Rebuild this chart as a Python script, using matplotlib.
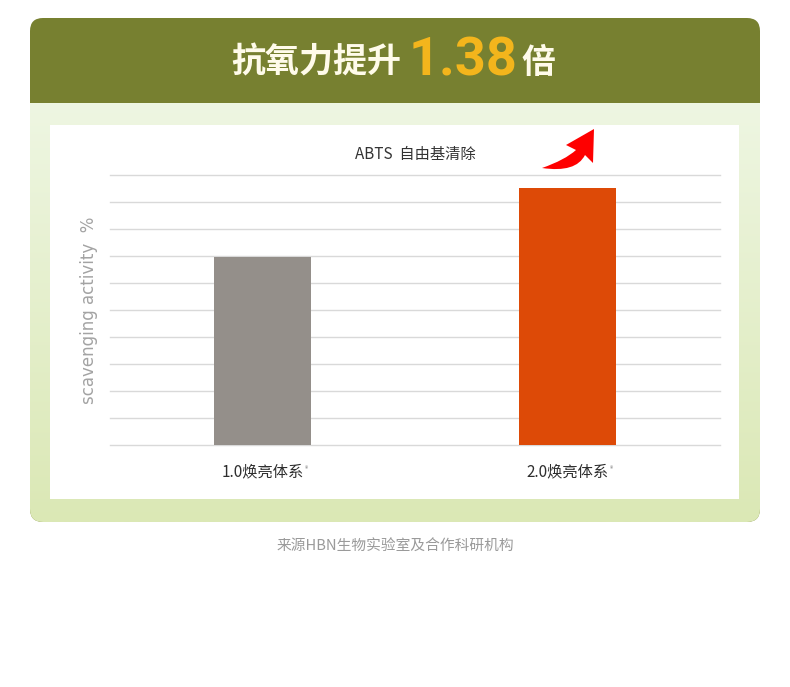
import matplotlib
matplotlib.use("Agg")
import matplotlib.pyplot as plt
import numpy as np
from matplotlib.patches import FancyBboxPatch, Rectangle, PathPatch
from matplotlib.path import Path
from matplotlib.colors import to_rgb

plt.rcParams['font.family'] = ['Noto Sans CJK SC', 'DejaVu Sans']

# ---- data ----
categories = ["1.0焕亮体系", "2.0焕亮体系"]
values = [6.97, 9.52]
bar_colors = ["#948f8a", "#dd4a07"]
chart_title = "ABTS  自由基清除"
y_label = "scavenging activity  %"
header_left = "抗氧力提升"
header_number = "1.38"
header_right = "倍"
source_note = "来源HBN生物实验室及合作科研机构"

W, H = 790, 687
fig = plt.figure(figsize=(W / 100, H / 100), dpi=100)
fig.patch.set_facecolor("white")

# background canvas in pixel coordinates
bg = fig.add_axes([0, 0, 1, 1])
bg.set_xlim(0, W)
bg.set_ylim(H, 0)
bg.axis("off")

# outer rounded card (olive), with gradient panel below the header
card = FancyBboxPatch((30, 18), 730, 504, boxstyle="round,pad=0,rounding_size=13",
                      facecolor="#778030", edgecolor="none", zorder=1)
bg.add_patch(card)
top_c = np.array(to_rgb("#eef6e2"))
bot_c = np.array(to_rgb("#dbe8b5"))
t = np.linspace(0, 1, 200)[:, None, None]
grad = top_c * (1 - t) + bot_c * t
im = bg.imshow(grad, extent=(30, 760, 522, 103), aspect="auto", zorder=2,
               interpolation="bilinear")
im.set_clip_path(card)
bg.set_xlim(0, W)
bg.set_ylim(H, 0)

# white inner panel
bg.add_patch(Rectangle((50, 125), 689, 374, facecolor="white", edgecolor="none", zorder=3))

# header text
bg.text(401, 62, header_left, ha="right", va="center", fontsize=24.5, fontweight="bold",
        color="#fffbea", zorder=5)
bg.text(463, 61, header_number, ha="center", va="center", fontsize=39, fontweight="bold",
        color="#f3b51c", family=["Roboto", "DejaVu Sans"], zorder=5)
bg.text(521, 62, header_right, ha="left", va="center", fontsize=24.5, fontweight="bold",
        color="#fffbea", zorder=5)

# source note
bg.text(395, 547, source_note, ha="center", va="center", fontsize=10.6, color="#9a9a9a")

# y label
bg.text(89, 310, y_label, ha="center", va="center", rotation=90, fontsize=12,
        color="#a3a3a3", family=["DejaVu Sans"], zorder=5)

# chart title
bg.text(415, 154, chart_title, ha="center", va="center", fontsize=11, color="#333333", zorder=5)

# red curved arrow (decoration)
verts = [(594, 129), (593, 163), (585, 155),
         (576, 173), (542, 168),
         (565, 160), (576, 150),
         (566, 145), (594, 129)]
codes = [Path.MOVETO, Path.LINETO, Path.LINETO,
         Path.CURVE3, Path.CURVE3,
         Path.CURVE3, Path.CURVE3,
         Path.LINETO, Path.CLOSEPOLY]
bg.add_patch(PathPatch(Path(verts, codes), facecolor="#fe0000", edgecolor="none", zorder=6))

# ---- chart axes ----
l, r, tp, bt = 110, 720, 175, 445
ax = fig.add_axes([l / W, (H - bt) / H, (r - l) / W, (bt - tp) / H])
ax.patch.set_alpha(0)
x = np.arange(len(categories))
ax.bar(x, values, width=0.315, color=bar_colors, zorder=3)
ax.set_xlim(-0.5, 1.5)
ax.set_ylim(0, 10)
ax.set_yticks(np.arange(0, 11, 1))
ax.yaxis.grid(True, color="#d9d9d9", linewidth=1.0, zorder=0)
for gl in ax.get_ygridlines():
    gl.set_clip_on(False)
ax.set_yticklabels([])
ax.tick_params(axis="both", length=0)
ax.set_xticks(x)
ax.set_xticklabels(categories, fontsize=11, color="#2e2e2e")
for lab in ax.get_xticklabels():
    lab.set_y(-0.05)
for s in ax.spines.values():
    s.set_visible(False)

# small superscript marks after tick labels
fig.canvas.draw()
renderer = fig.canvas.get_renderer()
for lab in ax.get_xticklabels():
    bb = lab.get_window_extent(renderer)
    fig.text((bb.x1 + 1) / W, (bb.y1 - 2) / H, "®", fontsize=5, color="#777777",
             ha="left", va="top")

fig.savefig("out.png", dpi=100, facecolor="white")
